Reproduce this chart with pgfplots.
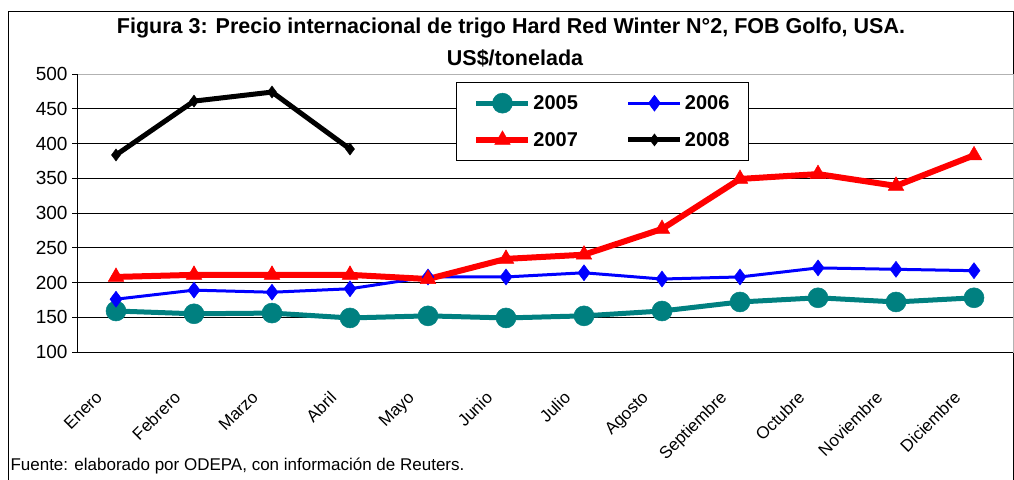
\documentclass[border=0pt]{standalone}
\usepackage{fontspec}
\setmainfont{Liberation Sans}
\usepackage{pgfplots}
\pgfplotsset{compat=1.18}
\definecolor{cteal}{RGB}{0,128,128}
\begin{document}
\begin{tikzpicture}
\path[use as bounding box] (0bp,0bp) rectangle (1014bp,-480bp);
\draw[line width=1bp] (8bp,-481bp) -- (8bp,-11bp) -- (1013bp,-11bp) -- (1013bp,-481bp);
\node[font=\bfseries\fontsize{21.5bp}{24bp}\selectfont] at (511bp,-28bp) {Figura 3: Precio internacional de trigo Hard Red Winter N°2, FOB Golfo, USA.};
\node[font=\bfseries\fontsize{21.5bp}{24bp}\selectfont] at (515bp,-58bp) {US\$/tonelada};
\node[anchor=west, font=\fontsize{17bp}{18bp}\selectfont] at (7bp,-466bp) {Fuente: elaborado por ODEPA, con información de Reuters.};
\begin{axis}[
  at={(77bp,-352bp)}, anchor=south west, scale only axis,
  width=936bp, height=278bp,
  xmin=0, xmax=12, ymin=100, ymax=500,
  ytick={100,150,...,500},
  xtick={0.5,1.5,...,11.5},
  xticklabels={Enero,Febrero,Marzo,Abril,Mayo,Junio,Julio,Agosto,Septiembre,Octubre,Noviembre,Diciembre},
  major x tick style={draw=none},
  extra x ticks={0,1,...,12},
  extra x tick labels={},
  extra x tick style={tick align=outside, major tick length=6bp, tick style={draw=black, line width=0.8bp}, grid=none},
  tick align=outside,
  major tick length=5bp,
  ytick style={draw=black, line width=0.8bp},
  ymajorgrids,
  grid style={draw=black, line width=0.8bp},
  axis line style={draw=gray!60, line width=1bp},
  /pgf/number format/assume math mode=true,
  yticklabel style={font=\fontsize{19bp}{22bp}\selectfont, xshift=-1bp},
  xticklabel style={font=\fontsize{17bp}{20bp}\selectfont, rotate=45, anchor=north east, xshift=-35bp, yshift=-5bp},
  legend columns=2,
  legend style={at={(0.405,0.972)}, anchor=north west, draw=black, line width=0.8bp, fill=white,
     font=\bfseries\fontsize{20bp}{22bp}\selectfont, inner xsep=17bp, inner ysep=11bp,
     row sep=17bp, /tikz/every even column/.append style={column sep=46bp}},
  legend cell align=left,
  legend image code/.code={\draw[mark repeat=2,mark phase=2] plot coordinates {(0bp,0bp) (26bp,0bp) (52bp,0bp)};},
  clip=false,
]
\addplot[cteal, line width=5bp, mark=*, mark size=10bp, mark options={solid, fill=cteal, line width=0.5bp}]
 coordinates {(0.5,159) (1.5,155) (2.5,156) (3.5,149) (4.5,152) (5.5,149) (6.5,152) (7.5,159) (8.5,172) (9.5,178) (10.5,172) (11.5,178)};
\addlegendentry{2005}
\addplot[blue, line width=3bp, mark=diamond*, mark size=8bp, mark options={solid, fill=blue, line width=0.5bp}]
 coordinates {(0.5,176) (1.5,189) (2.5,186) (3.5,191) (4.5,208) (5.5,208) (6.5,214) (7.5,205) (8.5,208) (9.5,221) (10.5,219) (11.5,217)};
\addlegendentry{2006}
\addplot[red, line width=6bp, mark=triangle*, mark size=9bp, mark options={solid, fill=red, line width=0.5bp}]
 coordinates {(0.5,208) (1.5,211) (2.5,211) (3.5,211) (4.5,205) (5.5,234) (6.5,240) (7.5,277) (8.5,349) (9.5,356) (10.5,339) (11.5,383)};
\addlegendentry{2007}
\addplot[black, line width=5bp, mark=diamond*, mark size=6bp, mark options={solid, fill=black, line width=0.5bp}]
 coordinates {(0.5,383.5) (1.5,461) (2.5,474) (3.5,392)};
\addlegendentry{2008}
\draw[black, line width=1bp] (rel axis cs:0,1) -- (rel axis cs:0,0) -- (rel axis cs:1,0);
\end{axis}
\end{tikzpicture}
\end{document}
